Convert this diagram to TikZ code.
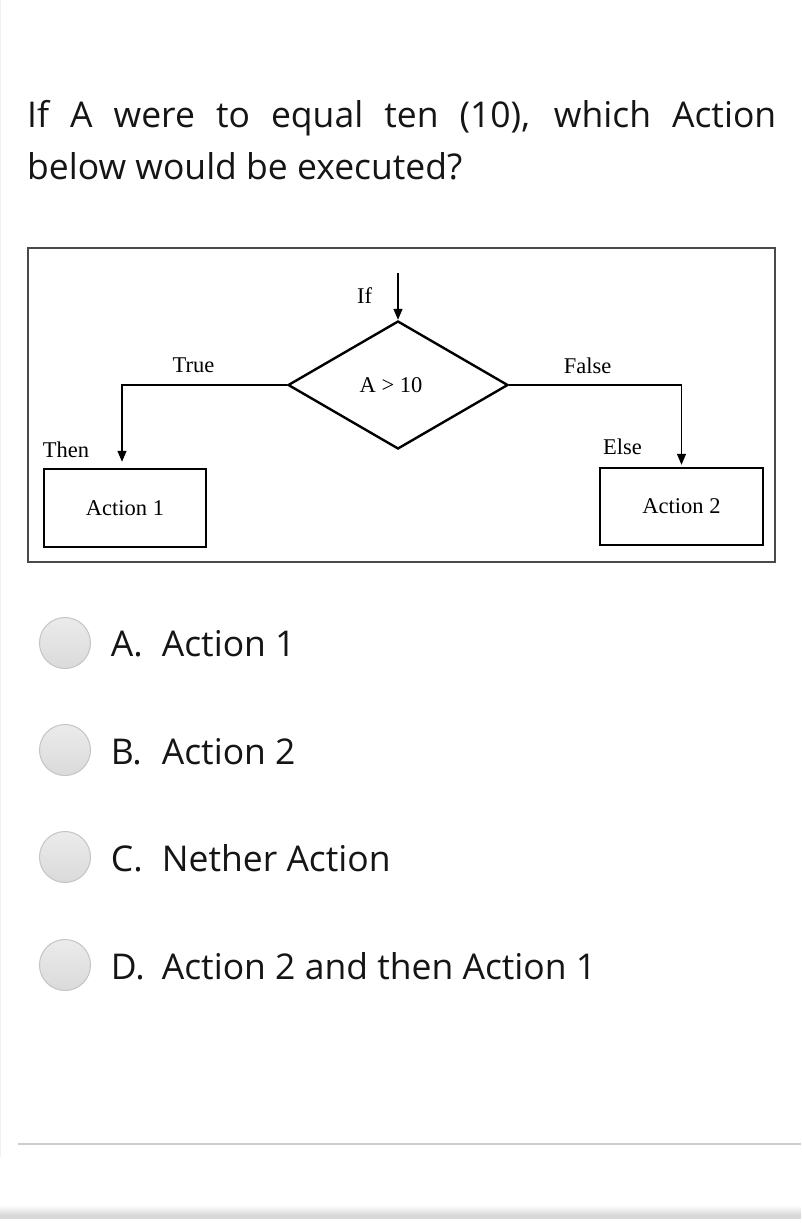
\documentclass[tikz,border=0pt]{standalone}
\usepackage{fontspec}
\usetikzlibrary{shapes.geometric,arrows.meta}
\newfontfamily\uifont{Open Sans}
\newfontfamily\diafont{Liberation Serif}
\definecolor{framegray}{HTML}{4A4A4A}
\definecolor{radioedge}{HTML}{C4C4C4}
\definecolor{radiotop}{HTML}{EBEBEB}
\definecolor{radiobot}{HTML}{DADADA}
\definecolor{rulegray}{HTML}{CDCDCD}
\definecolor{edgegray}{HTML}{F0F0F0}
\definecolor{shadowgray}{HTML}{D8D8D8}
\definecolor{txt}{HTML}{151515}
\begin{document}
\begin{tikzpicture}[x=1pt,y=-1pt,
  qtext/.style={inner sep=0pt, anchor=base west, font=\uifont\fontsize{35.5}{42}\selectfont, text=txt},
  dtext/.style={inner sep=0pt, anchor=base, font=\diafont\fontsize{22.5}{26}\selectfont},
  actbox/.style={draw, line width=2.4pt, rectangle, inner sep=0pt, font=\diafont\fontsize{22.5}{26}\selectfont},
  decision/.style={draw, line width=2.4pt, diamond, inner sep=0pt, minimum width=220pt, minimum height=128pt, font=\diafont\fontsize{22.5}{26}\selectfont},
  flow/.style={line width=1.2pt, -{Triangle[length=11pt,width=9pt]}},
  radio/.style={circle, draw=radioedge, line width=1pt, top color=radiotop, bottom color=radiobot, minimum size=51pt, inner sep=0pt},
]
\useasboundingbox (0,0) rectangle (801,1231);
\fill[white] (0,0) rectangle (801,1231);
% page edges
\draw[edgegray, line width=1pt] (0.5,0) -- (0.5,1157);
\draw[rulegray, line width=2pt] (18,1144) -- (801,1144);
\shade[top color=white, bottom color=shadowgray] (0,1205) rectangle (801,1215);
\fill[shadowgray] (0,1215) rectangle (801,1219);

% question
\node[qtext] (q1) at (27,127) {\hbox to 749pt{If A were to equal ten (10), which Action}};
\node[qtext] (q2) at (27,179) {below would be executed?};

% diagram frame
\draw[framegray, line width=1.5pt] (28,248) rectangle (775,562);

\coordinate (ifin) at (398,273);
\node[decision] (dia) at (398,385) {A > 10\kern14pt};
\node[actbox, minimum width=162pt, minimum height=78pt] (a1) at (125,508) {Action 1};
\node[actbox, minimum width=163pt, minimum height=77pt] (a2) at (681.5,506.5) {Action 2};

\node[dtext] (lif) at (364.5,303) {If};
\node[dtext] (ltrue) at (193.5,372) {True};
\node[dtext] (lthen) at (66,457) {Then};
\node[dtext] (lfalse) at (587.5,373) {False};
\node[dtext] (lelse) at (622.5,454) {Else};

\draw[flow] (ifin) -- (dia.north);
\draw[flow, shorten >=6pt] (dia.west) -| ([xshift=-3pt]a1.north);
\draw[flow, shorten >=2pt] (dia.east) -| (a2.north);

% options
\node[radio] (rA) at (65,643) {};
\node[radio] (rB) at (65,750) {};
\node[radio] (rC) at (65,857) {};
\node[radio] (rD) at (65,965) {};
\node[qtext] (oA) at (110.7,656) {\makebox[51pt][l]{A.}Action 1};
\node[qtext] (oB) at (110.7,764) {\makebox[51pt][l]{B.}Action 2};
\node[qtext] (oC) at (110.7,871) {\makebox[51pt][l]{C.}Nether Action};
\node[qtext] (oD) at (110.7,979) {\makebox[51pt][l]{D.}Action 2 and then Action 1};
\end{tikzpicture}
\end{document}
